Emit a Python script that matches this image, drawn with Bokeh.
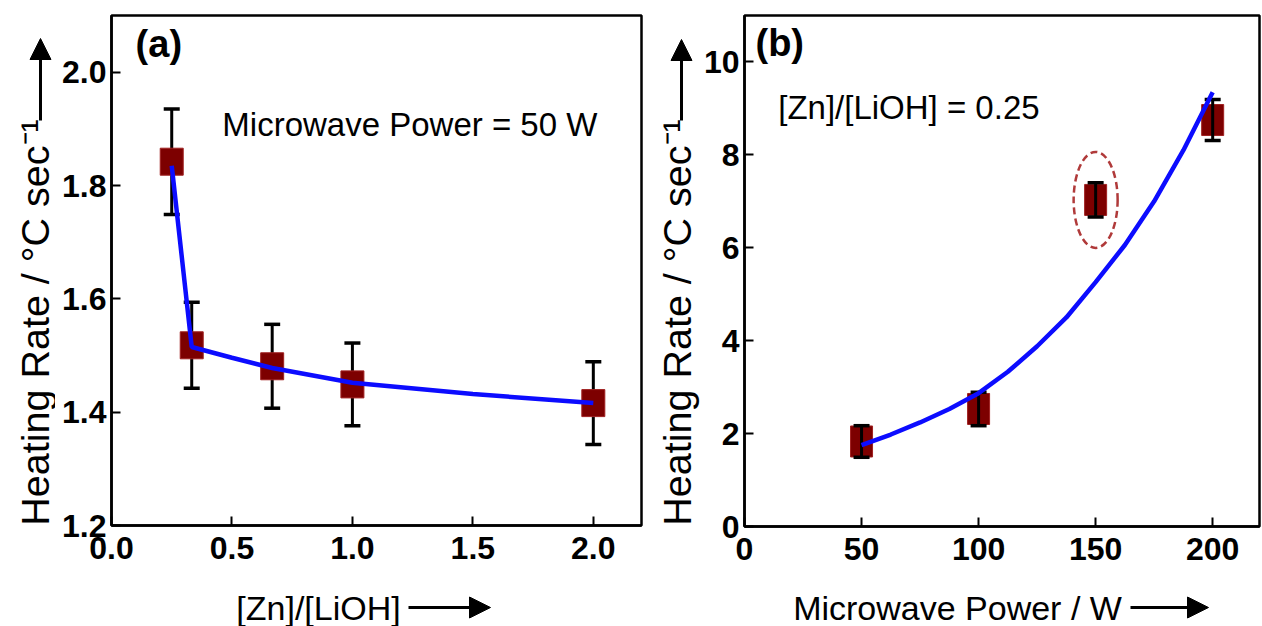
import numpy as np
from bokeh.plotting import figure
from bokeh.layouts import row, column
from bokeh.models import Range1d, Label, Arrow, NormalHead, FixedTicker, CustomJSTickFormatter
from bokeh.core.properties import value
from bokeh.embed import file_html
from bokeh.resources import INLINE

# ---------------- data: panel (a) ----------------
ratio_x = [0.25, 0.333, 0.667, 1.0, 2.0]
rate_a = [1.842, 1.518, 1.481, 1.449, 1.416]
err_a = [0.093, 0.076, 0.074, 0.073, 0.073]
fit_a_x = [0.25, 0.333, 0.5, 0.667, 1.0, 1.5, 2.0]
fit_a_y = [1.835, 1.515, 1.496, 1.478, 1.452, 1.432, 1.416]
ticks_a_x = [0.0, 0.5, 1.0, 1.5, 2.0]
ticks_a_y = [1.2, 1.4, 1.6, 1.8, 2.0]

# ---------------- data: panel (b) ----------------
power_x = [50, 100, 150, 200]
rate_b = [1.83, 2.53, 7.03, 8.75]
err_b = [0.34, 0.36, 0.37, 0.44]
fit_b_x = [50, 62.5, 75, 87.5, 100, 112.5, 125, 137.5, 150, 162.5, 175, 187.5, 200]
fit_b_y = [1.75, 1.98, 2.24, 2.53, 2.87, 3.33, 3.88, 4.5, 5.26, 6.06, 7.0, 8.1, 9.35]
ticks_b_x = [0, 50, 100, 150, 200]
ticks_b_y = [0, 2, 4, 6, 8, 10]

FONT = "Liberation Sans"
RED = "#7d0000"
BLUE = "#0c0cff"
TOTAL_H = 626
MAIN_H = 583


def main_fig(width, xr, yr, xt, yt, mbl, mbr, mbb):
    p = figure(width=width, height=MAIN_H, output_backend="svg", toolbar_location=None,
               title=None, x_range=Range1d(*xr), y_range=Range1d(*yr),
               min_border_left=mbl, min_border_right=mbr, min_border_top=15,
               min_border_bottom=mbb)
    p.grid.visible = False
    p.outline_line_color = "black"
    p.outline_line_width = 2.5
    p.xaxis.ticker = FixedTicker(ticks=xt)
    p.yaxis.ticker = FixedTicker(ticks=yt)
    for ax in (p.xaxis[0], p.yaxis[0]):
        ax.axis_line_width = 2.5
        ax.axis_line_color = "black"
        ax.major_tick_in = 9
        ax.major_tick_out = 0
        ax.major_tick_line_width = 2
        ax.major_tick_line_color = "black"
        ax.minor_tick_line_color = None
        ax.major_label_text_font = FONT
        ax.major_label_text_font_size = "32px"
        ax.major_label_text_font_style = "bold"
        ax.major_label_text_color = "black"
    p.xaxis.major_label_standoff = 11
    p.yaxis.major_label_standoff = 5
    return p


def blank_fig(width, height, xr, yr):
    p = figure(width=width, height=height, output_backend="svg", toolbar_location=None,
               title=None, x_range=Range1d(*xr), y_range=Range1d(*yr),
               x_axis_location=None, y_axis_location=None,
               min_border_left=0, min_border_right=0, min_border_top=0, min_border_bottom=0)
    p.min_border = 0
    p.grid.visible = False
    p.outline_line_color = None
    return p


def errorbars(p, xs, ys, es):
    lo = [y - e for y, e in zip(ys, es)]
    hi = [y + e for y, e in zip(ys, es)]
    p.segment(x0=xs, y0=lo, x1=xs, y1=hi, line_color="black", line_width=3)
    p.scatter(x=xs + xs, y=lo + hi, marker="dash", size=16, line_color="black", line_width=3.5)


def head():
    return NormalHead(size=21, fill_color="black", line_color="black", line_width=1)


YLABEL = "Heating Rate / \u00b0C sec\u207b\u00b9"

# ---------------- panel (a) ----------------
pa = main_fig(601, (0, 2.2), (1.2, 2.1), ticks_a_x, ticks_a_y, 56, 15, 58)
pa.xaxis.formatter = CustomJSTickFormatter(code="return tick.toFixed(1);")
pa.yaxis.formatter = CustomJSTickFormatter(code="return tick.toFixed(1);")
errorbars(pa, ratio_x, rate_a, err_a)
pa.rect(x=ratio_x, y=rate_a, width=23, height=27, width_units="screen", height_units="screen",
        fill_color=RED, line_color="#a02020", line_width=1)
pa.line(fit_a_x, fit_a_y, line_color=BLUE, line_width=4.5)
pa.add_layout(Label(x=0.10, y=2.05, text="(a)", text_font=FONT, text_font_size="38px",
                    text_font_style="bold", text_color="black",
                    text_baseline="middle", text_align="left"))
pa.add_layout(Label(x=0.46, y=1.907, text="Microwave Power = 50 W", text_font=FONT,
                    text_font_size="33px", text_color="black",
                    text_baseline="middle", text_align="left"))

# the frame of this strip is aligned with the frame of pa (page y 15..525)
ya = blank_fig(55, MAIN_H, (0, 55), (525, 15))
ya.text(x=[34], y=[322], text=[YLABEL], angle=np.pi / 2, text_align="center",
        text_baseline="middle", text_font=value(FONT), text_font_size=value("39.5px"),
        text_color="black")
ya.add_layout(Arrow(x_start=40, y_start=120, x_end=40, y_end=38, line_width=3, end=head()))

xa = blank_fig(656, TOTAL_H - MAIN_H, (0, 656), (TOTAL_H, MAIN_H))
xa.text(x=[318], y=[607], text=["[Zn]/[LiOH]"], text_align="center", text_baseline="middle",
        text_font=value(FONT), text_font_size=value("34px"), text_color="black")
xa.add_layout(Arrow(x_start=408, y_start=607, x_end=490, y_end=607, line_width=3, end=head()))

# ---------------- panel (b) ----------------
pb = main_fig(562, (0, 220), (0, 11), ticks_b_x, ticks_b_y, 41, 3, 57)
pb.rect(x=power_x, y=rate_b, width=22, height=31, width_units="screen", height_units="screen",
        fill_color=RED, line_color="#a02020", line_width=1)
errorbars(pb, power_x, rate_b, err_b)
pb.line(fit_b_x, fit_b_y, line_color=BLUE, line_width=4.5)
pb.ellipse(x=[150], y=[7.03], width=44, height=96, width_units="screen", height_units="screen",
           fill_color=None, line_color="#b03a3a", line_width=2.5, line_dash="7 4")
pb.add_layout(Label(x=4.7, y=10.4, text="(b)", text_font=FONT, text_font_size="38px",
                    text_font_style="bold", text_color="black",
                    text_baseline="middle", text_align="left"))
pb.add_layout(Label(x=14.4, y=9.01, text="[Zn]/[LiOH] = 0.25", text_font=FONT,
                    text_font_size="33px", text_color="black",
                    text_baseline="middle", text_align="left"))

yb = blank_fig(44, MAIN_H, (656, 700), (526, 15))
yb.text(x=[676], y=[322], text=[YLABEL], angle=np.pi / 2, text_align="center",
        text_baseline="middle", text_font=value(FONT), text_font_size=value("39.5px"),
        text_color="black")
yb.add_layout(Arrow(x_start=681, y_start=120, x_end=681, y_end=39, line_width=3, end=head()))

xb = blank_fig(606, TOTAL_H - MAIN_H, (656, 1262), (TOTAL_H, MAIN_H))
xb.text(x=[957], y=[607], text=["Microwave Power / W"], text_align="center",
        text_baseline="middle", text_font=value(FONT), text_font_size=value("34px"),
        text_color="black")
xb.add_layout(Arrow(x_start=1130, y_start=607, x_end=1208, y_end=607, line_width=3, end=head()))

layout = row(column(row(ya, pa), xa), column(row(yb, pb), xb))
open("out.html", "w").write(file_html(layout, INLINE))
